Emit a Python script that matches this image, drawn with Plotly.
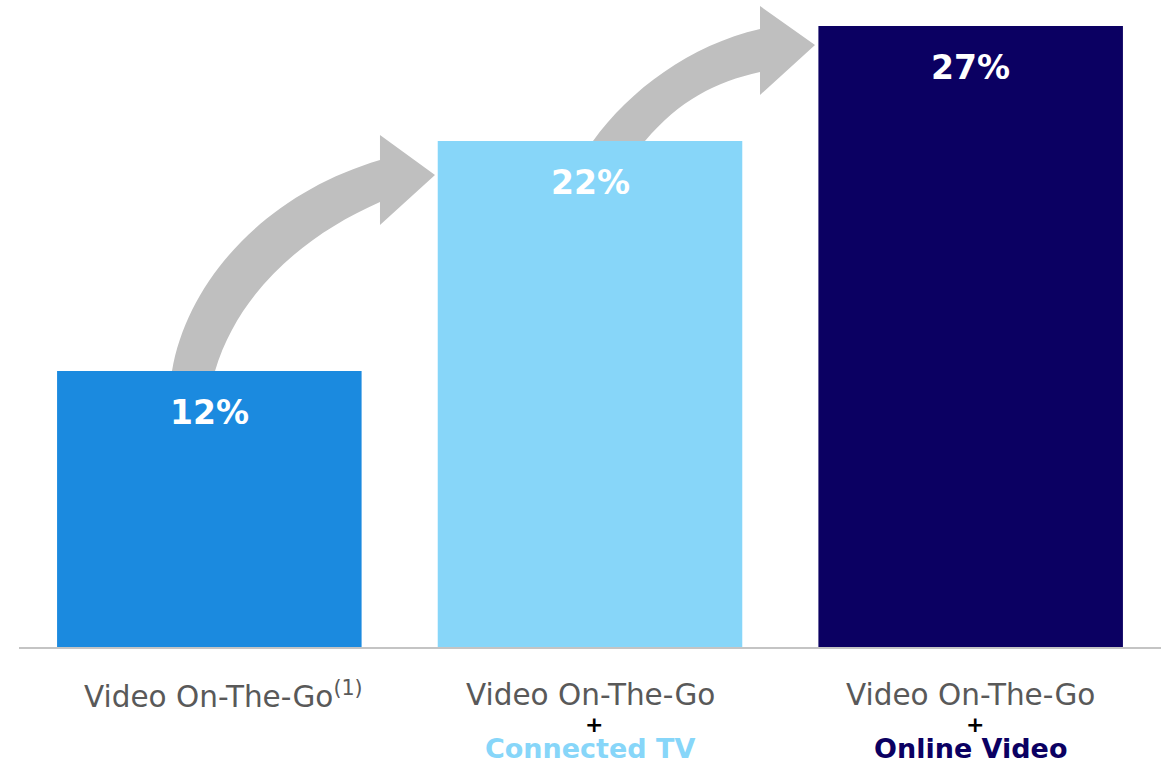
import plotly.graph_objects as go

# ---- data ----
base_labels = ["Video On-The-Go", "Video On-The-Go", "Video On-The-Go"]
footnotes = ["(1)", "", ""]
added_labels = ["", "Connected TV", "Online Video"]
values = [12, 22, 27]
bar_colors = ["#1B8ADF", "#87D6F9", "#0B0062"]

# ---- layout constants ----
W, H = 1168, 764
ML, MR, MT, MB = 19, 7, 3, 117
YMAX = 28
XW = W - ML - MR
YH = H - MT - MB
FONT = "DejaVu Sans"
GREY_TEXT = "#595959"
ARROW = "#BFBFBF"

xs = list(range(len(values)))


def px2x(px):
    return -0.5 + (px - ML) / XW * len(values)


def py2y(py):
    return (H - MB - py) / YH * YMAX


def pt(p):
    return f"{px2x(p[0]):.4f},{py2y(p[1]):.4f}"


def arrow_path(o0, o1, o2, o3, hb_top, tip, hb_bot, i3, i2, i1, i0):
    return ("M " + pt(o0) + " C " + pt(o1) + " " + pt(o2) + " " + pt(o3)
            + " L " + pt(hb_top) + " L " + pt(tip) + " L " + pt(hb_bot)
            + " L " + pt(i3) + " C " + pt(i2) + " " + pt(i1) + " " + pt(i0) + " Z")


fig = go.Figure()
fig.add_trace(go.Bar(
    x=xs, y=values, marker=dict(color=bar_colors, line=dict(width=0)),
    hoverinfo="skip", showlegend=False,
))

shapes = [
    dict(type="path", xref="x", yref="y", layer="below",
         fillcolor=ARROW, line=dict(width=0),
         path=arrow_path((172, 371), (188, 278), (268, 193), (380, 160),
                         (380, 135), (435, 175), (380, 225),
                         (380, 202), (305, 235), (239, 291), (215, 371))),
    dict(type="path", xref="x", yref="y", layer="below",
         fillcolor=ARROW, line=dict(width=0),
         path=arrow_path((593, 141), (630, 90), (690, 45), (760, 29),
                         (760, 6), (815, 45), (760, 95),
                         (760, 72), (715, 82), (680, 100), (645, 141))),
]

annotations = []
for i, v in enumerate(values):
    annotations.append(dict(
        x=xs[i], y=v, xref="x", yref="y", text=f"{v}%", showarrow=False,
        xanchor="center", yanchor="middle", yshift=-41,
        font=dict(family=FONT, size=33, color="white", weight="bold"),
    ))
    lab = base_labels[i]
    shift = 0
    if footnotes[i]:
        lab += f"<sup>{footnotes[i]}</sup>"
        shift = 14
    annotations.append(dict(
        x=xs[i], y=0, xref="x", yref="paper", text=lab, showarrow=False,
        xanchor="center", yanchor="middle", yshift=-48, xshift=shift,
        font=dict(family=FONT, size=29.5, color=GREY_TEXT),
    ))
    if added_labels[i]:
        annotations.append(dict(
            x=xs[i], y=0, xref="x", yref="paper", text="+", showarrow=False,
            xanchor="center", yanchor="middle", yshift=-77, xshift=4,
            font=dict(family=FONT, size=22, color="black", weight="bold"),
        ))
        annotations.append(dict(
            x=xs[i], y=0, xref="x", yref="paper", text=added_labels[i],
            showarrow=False, xanchor="center", yanchor="middle", yshift=-101,
            font=dict(family=FONT, size=27, color=bar_colors[i], weight="bold"),
        ))

fig.update_layout(
    width=W, height=H,
    margin=dict(l=ML, r=MR, t=MT, b=MB, pad=0),
    paper_bgcolor="white", plot_bgcolor="white",
    bargap=0.2,
    shapes=shapes,
    annotations=annotations,
    xaxis=dict(range=[-0.5, len(values) - 0.5], showticklabels=False,
               showgrid=False, zeroline=False, ticks="",
               showline=True, linecolor="#C4C4C4", linewidth=2),
    yaxis=dict(range=[0, YMAX], visible=False, showgrid=False, zeroline=False),
)

fig.write_html(
    "out.html",
    config={"displayModeBar": False},
    post_script="document.body.style.margin='0';document.body.style.overflow='hidden';",
)
